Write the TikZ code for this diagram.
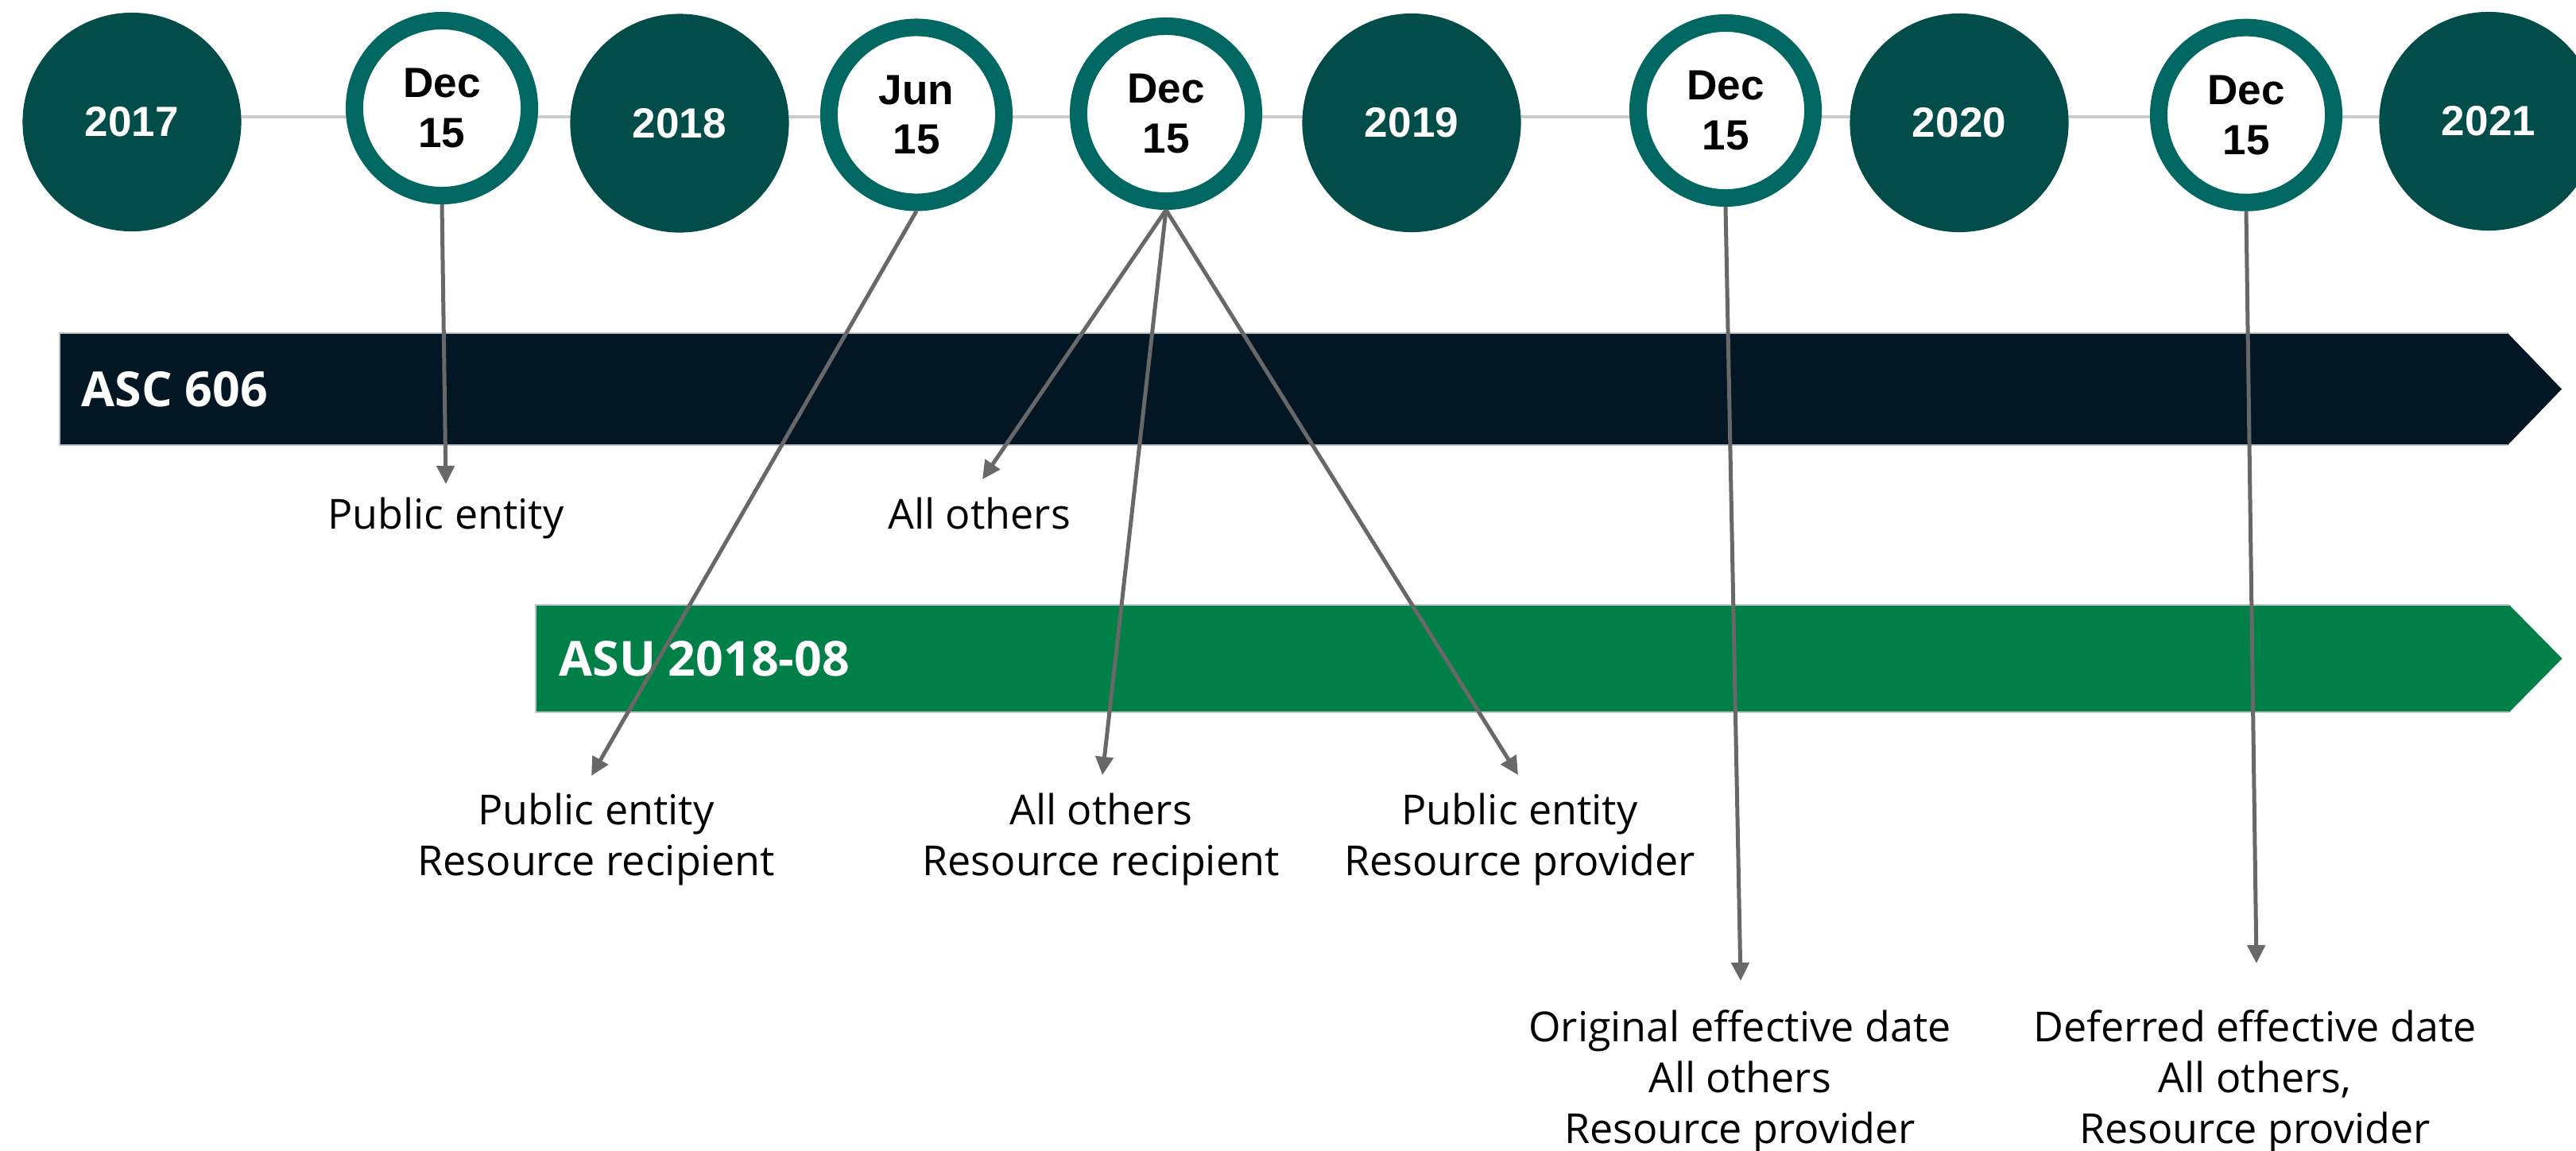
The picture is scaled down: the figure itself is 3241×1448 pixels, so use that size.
\documentclass[tikz,border=0pt]{standalone}
\usepackage{fontspec}
\setmainfont{Open Sans}
\newfontfamily\datefont{Liberation Sans}
\usetikzlibrary{arrows.meta}
\definecolor{yearteal}{HTML}{024D4A}
\definecolor{ringteal}{HTML}{006763}
\definecolor{ascnavy}{HTML}{021624}
\definecolor{asugreen}{HTML}{007F47}
\definecolor{connGray}{HTML}{686868}
\definecolor{lineGray}{HTML}{CCCCCC}
\definecolor{edgeGray}{HTML}{BFC4C8}
\begin{document}
\begin{tikzpicture}[x=0.01cm,y=-0.01cm,
  yearnode/.style={circle, fill=yearteal, minimum size=2.75cm, inner sep=0pt, text=white,
    font=\datefont\bfseries\fontsize{15.1}{17.9}\selectfont},
  datering/.style={circle, draw=ringteal, line width=0.22cm, fill=white, minimum size=2.2cm,
    inner sep=0pt, align=center, font=\datefont\bfseries\fontsize{15.1}{17.9}\selectfont},
  conn/.style={draw=connGray, line width=0.05cm, -{Triangle[width=0.22cm,length=0.23cm]}},
  lbl/.style={anchor=north, align=center, inner sep=0pt, font=\fontsize{14.8}{18.2}\selectfont},
  barlbl/.style={anchor=west, inner sep=0pt, text=white, font=\bfseries\fontsize{17.3}{20}\selectfont},
  timeline/.style={draw=lineGray, line width=0.045cm}
]
\useasboundingbox (0,0) rectangle (3241,1448);
\clip (0,0) rectangle (3241,1448);

% timeline
\coordinate (tlA) at (166,147);
\coordinate (tlB) at (3131,147);
\draw[timeline] (tlA) -- (tlB);

% year circles
\node[yearnode] (y2017) at (166,153.5) {2017};
\node[yearnode] (y2018) at (855,155) {2018};
\node[yearnode] (y2019) at (1776,154.5) {2019};
\node[yearnode] (y2020) at (2465,154.5) {2020};
\node[yearnode] (y2021) at (3131,152.5) {2021};

% date rings
\node[datering] (d1) at (556,136) {Dec\\15};
\node[datering] (j1) at (1153,144.5) {Jun\\15};
\node[datering] (d2) at (1467,143) {Dec\\15};
\node[datering] (d3) at (2171,139) {Dec\\15};
\node[datering] (d4) at (2826,144.7) {Dec\\15};

% bars
\fill[ascnavy] (75,419) -- (3155,419) -- (3223,489.5) -- (3155,560) -- (75,560) -- cycle;
\draw[edgeGray, line width=0.015cm] (3155,419) -- (75,419) -- (75,560) -- (3155,560);
\node[barlbl] (asc) at (102,490) {ASC 606};

\fill[asugreen] (674,761) -- (3157,761) -- (3223.5,828.5) -- (3157,896) -- (674,896) -- cycle;
\draw[edgeGray, line width=0.015cm] (3157,761) -- (674,761) -- (674,896) -- (3157,896);
\node[barlbl] (asu) at (703,828.5) {ASU 2018-08};

% labels
\node[lbl] (l1) at (561,625) {Public entity};
\node[lbl] (l2) at (1232,625) {All others};
\node[lbl] (l3) at (750,997) {Public entity\\Resource recipient};
\node[lbl] (l4) at (1385,997) {All others\\Resource recipient};
\node[lbl] (l5) at (1912,997) {Public entity\\Resource provider};
\node[lbl] (l6) at (2189,1270) {Original effective date\\All others\\Resource provider};
\node[lbl] (l7) at (2837,1270) {Deferred effective date\\All others,\\Resource provider};

% arrow tips
\coordinate (t1) at (561,609);
\coordinate (t2) at (744,976);
\coordinate (t3) at (1236,603);
\coordinate (t4) at (1387,975);
\coordinate (t5) at (1910,975);
\coordinate (t6) at (2190,1234);
\coordinate (t7) at (2839,1212);

% connectors
\draw[conn] (d1.south) -- (t1);
\draw[conn] (j1.south) -- (t2);
\draw[conn] (d2.south) -- (t3);
\draw[conn] (d2.south) -- (t4);
\draw[conn] (d2.south) -- (t5);
\draw[conn] (d3.south) -- (t6);
\draw[conn] (d4.south) -- (t7);
\end{tikzpicture}
\end{document}
